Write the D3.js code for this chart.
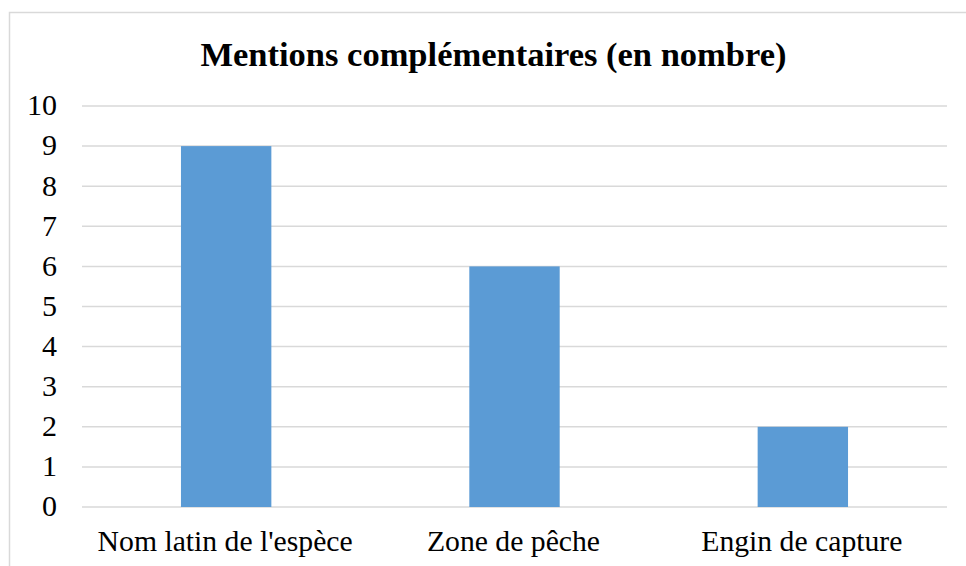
<!DOCTYPE html>
<html>
<head>
<meta charset="utf-8">
<script src="https://cdn.jsdelivr.net/npm/d3@7"></script>
<style>
  body { margin: 0; background: #fff; }
</style>
</head>
<body>
<svg id="chart" width="966" height="566"></svg>
<script>
const categories = ["Nom latin de l'espèce", "Zone de pêche", "Engin de capture"];
const values = [9, 6, 2];
const yTicks = [0, 1, 2, 3, 4, 5, 6, 7, 8, 9, 10];
const title = "Mentions complémentaires (en nombre)";

const font = "'Times New Roman', 'Liberation Serif', 'DejaVu Serif', serif";
const svg = d3.select("#chart");
const plotLeft = 82, plotRight = 947, plotTop = 106, plotBottom = 507;

// chart border (only top and left visible in the frame)
svg.append("rect")
    .attr("x", 9.5).attr("y", 12.5)
    .attr("width", 970).attr("height", 600)
    .attr("fill", "none")
    .attr("stroke", "#d9d9d9")
    .attr("stroke-width", 1.5);

const x = d3.scaleBand().domain(categories).range([plotLeft, plotRight]).padding(0);
const y = d3.scaleLinear().domain([0, 10]).range([plotBottom, plotTop]);

// gridlines
svg.append("g")
    .selectAll("line")
    .data(yTicks)
    .enter()
    .append("line")
    .attr("x1", plotLeft)
    .attr("x2", plotRight)
    .attr("y1", d => y(d))
    .attr("y2", d => y(d))
    .attr("stroke", "#d9d9d9")
    .attr("stroke-width", 1.5);

const barW = x.bandwidth() / 3.19;

svg.append("g")
    .selectAll("rect")
    .data(values)
    .enter()
    .append("rect")
    .attr("x", (d, i) => x(categories[i]) + x.bandwidth() / 2 - barW / 2)
    .attr("y", d => y(d))
    .attr("width", barW)
    .attr("height", d => y(0) - y(d))
    .attr("fill", "#5b9bd5");

// y tick labels
svg.append("g")
    .selectAll("text")
    .data(yTicks)
    .enter()
    .append("text")
    .attr("x", 57)
    .attr("y", d => y(d))
    .attr("dy", "0.31em")
    .attr("text-anchor", "end")
    .attr("font-family", font)
    .attr("font-size", 30)
    .text(d => d);

// category labels
svg.append("g")
    .selectAll("text")
    .data(categories)
    .enter()
    .append("text")
    .attr("x", d => x(d) + x.bandwidth() / 2 - 1)
    .attr("y", 551)
    .attr("text-anchor", "middle")
    .attr("font-family", font)
    .attr("font-size", 29.7)
    .text(d => d);

svg.append("text")
    .attr("x", 493.5)
    .attr("y", 66)
    .attr("text-anchor", "middle")
    .attr("font-family", font)
    .attr("font-size", 34.5)
    .attr("font-weight", "bold")
    .text(title);
</script>
</body>
</html>
